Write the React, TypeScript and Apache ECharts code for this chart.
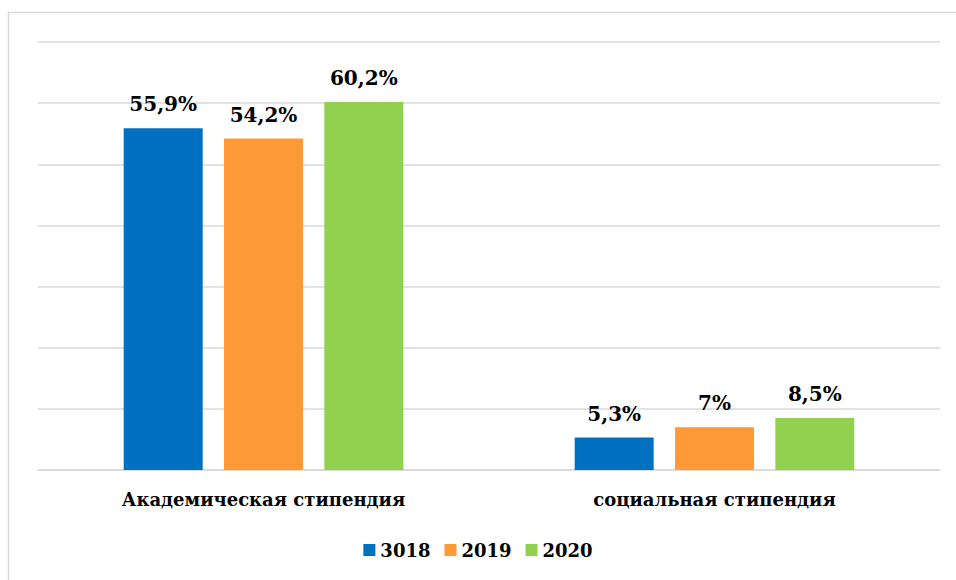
import React, { useEffect, useRef } from "react";
import * as echarts from "echarts";

const categories = ["Академическая стипендия", "социальная стипендия"];
const seriesNames = ["3018", "2019", "2020"];
const values2018 = [55.9, 5.3];
const values2019 = [54.2, 7];
const values2020 = [60.2, 8.5];
const labels2018 = ["55,9%", "5,3%"];
const labels2019 = ["54,2%", "7%"];
const labels2020 = ["60,2%", "8,5%"];
const colors = ["#0070C0", "#FF9A36", "#92D050"];

const FONT = "DejaVu Serif";

export default function App() {
  const ref = useRef<HTMLDivElement>(null);
  useEffect(() => {
    if (!ref.current) return;
    const chart = echarts.init(ref.current, undefined, { renderer: "svg" });
    const data = [values2018, values2019, values2020];
    const labels = [labels2018, labels2019, labels2020];
    chart.setOption({
      animation: false,
      backgroundColor: "#ffffff",
      graphic: [
        {
          type: "rect",
          shape: { x: 8.5, y: 12.5, width: 1200, height: 1200 },
          style: { fill: "none", stroke: "#d9d9d9", lineWidth: 1.5 },
          silent: true,
        },
      ],
      grid: { left: 38, right: 16, top: 42, bottom: 110 },
      legend: {
        bottom: 16,
        left: "center",
        itemWidth: 12,
        itemHeight: 12,
        itemGap: 14,
        icon: "rect",
        textStyle: { fontFamily: FONT, fontWeight: "bold", fontSize: 18, color: "#000" },
        data: seriesNames,
      },
      xAxis: {
        type: "category",
        data: categories,
        axisLine: { show: true, lineStyle: { color: "#d9d9d9", width: 1.5 } },
        axisTick: { show: false },
        axisLabel: {
          margin: 20,
          fontFamily: FONT,
          fontWeight: "bold",
          fontSize: 18,
          color: "#000",
        },
      },
      yAxis: {
        type: "value",
        min: 0,
        max: 70,
        interval: 10,
        axisLabel: { show: false },
        axisLine: { show: false },
        axisTick: { show: false },
        splitLine: { lineStyle: { color: "#d9d9d9", width: 1.5 } },
      },
      series: seriesNames.map((name, i) => ({
        name,
        type: "bar",
        data: data[i],
        barGap: "27%",
        barCategoryGap: "38%",
        itemStyle: { color: colors[i] },
        label: {
          show: true,
          position: "top",
          distance: 14,
          fontFamily: FONT,
          fontWeight: "bold",
          fontSize: 20,
          color: "#000",
          formatter: (p: any) => labels[i][p.dataIndex],
        },
      })),
    });
    return () => chart.dispose();
  }, []);
  return (
    <div
      ref={ref}
      style={{ position: "absolute", left: 0, top: 0, width: 956, height: 580 }}
    />
  );
}
